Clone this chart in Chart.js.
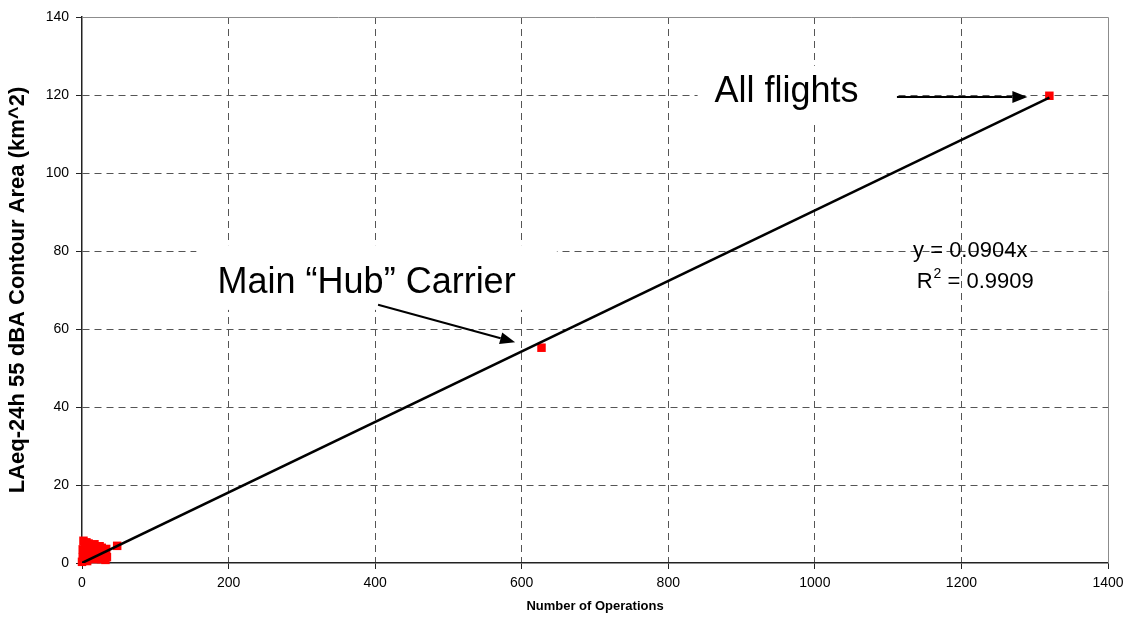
<!DOCTYPE html>
<html>
<head>
<meta charset="utf-8">
<title>LAeq-24h contour area vs number of operations</title>
<script src="https://cdn.jsdelivr.net/npm/chart.js@4/dist/chart.umd.min.js"></script>
<style>
    body { margin: 0; background: #ffffff; }
    #wrap { width: 1134px; height: 617px; }
</style>
</head>
<body>
<div id="wrap"><canvas id="noiseChart"></canvas></div>
<script>

// Values

const operations = [
    0, 1, 1, 2, 2, 3, 3, 4, 4, 5, 6, 6, 7, 8, 8, 9, 10, 11, 12, 13, 14, 15,
    16, 17, 18, 19, 20, 22, 23, 24, 25, 26, 27, 28, 30, 32, 33, 34, 48,
    627, 1320
];
const contourArea = [
    0.3, 1.5, 3.5, 5.7, 2.5, 3.0, 0.8, 4.5, 1.8, 2.2, 5.3, 3.2, 0.5, 1.0, 4.0, 5.0, 3.5, 1.5, 2.5, 3.0, 4.2, 1.2,
    2.2, 4.8, 3.4, 1.0, 2.0, 3.6, 1.5, 4.3, 2.8, 1.0, 3.9, 2.0, 1.8, 0.8, 3.6, 1.5, 4.4,
    55.2, 119.8
];

// Linear trendline (y = 0.0904x), ends
const trendOps = [0, 1320];
const trendArea = [0, 119.3];

const xTicks = [0, 200, 400, 600, 800, 1000, 1200, 1400];
const yTicks = [0, 20, 40, 60, 80, 100, 120, 140];

const equationText = "y = 0.0904x";
const rSquaredText = "0.9909";

const FONT = '"Liberation Sans", Arial, sans-serif';
const GRID = "#555555";


// Annotations, placed in data units

const notes = [
    {
        text: "Main \u201CHub\u201D Carrier",
        x: 185, y: 69.3,
        box: [156, 81.5, 648, 64.9],
        arrow: [404, 66.2, 591, 56.6]
    },
    {
        text: "All flights",
        x: 863, y: 118.2,
        box: [840, 127.5, 1112, 112.5],
        arrow: [1112, 119.5, 1290, 119.5]
    }
];


function drawArrow(ctx, x1, y1, x2, y2) {

    const ang = Math.atan2(y2 - y1, x2 - x1);
    const head = 15;
    const half = 6;

    const bx = x2 - head * Math.cos(ang);
    const by = y2 - head * Math.sin(ang);

    ctx.lineWidth = 2;
    ctx.strokeStyle = "#000";
    ctx.fillStyle = "#000";

    ctx.beginPath();
    ctx.moveTo(x1, y1);
    ctx.lineTo(bx, by);
    ctx.stroke();

    ctx.beginPath();
    ctx.moveTo(x2, y2);
    ctx.lineTo(bx - half * Math.sin(ang), by + half * Math.cos(ang));
    ctx.lineTo(bx + half * Math.sin(ang), by - half * Math.cos(ang));
    ctx.closePath();
    ctx.fill();
}


const annotationPlugin = {

    id: "annotations",

    // white label boxes and plot frame, under the data
    beforeDatasetsDraw(chart) {

        const ctx = chart.ctx;
        const xs = chart.scales.x;
        const ys = chart.scales.y;
        const area = chart.chartArea;

        ctx.save();

        ctx.fillStyle = "#ffffff";

        notes.forEach(note => {
            const x1 = xs.getPixelForValue(note.box[0]);
            const y1 = ys.getPixelForValue(note.box[1]);
            const x2 = xs.getPixelForValue(note.box[2]);
            const y2 = ys.getPixelForValue(note.box[3]);
            ctx.fillRect(x1, y1, x2 - x1, y2 - y1);
        });

        // top and right frame
        ctx.strokeStyle = "#8c8c8c";
        ctx.lineWidth = 1;
        ctx.beginPath();
        ctx.moveTo(area.left, area.top + 0.5);
        ctx.lineTo(area.right + 0.5, area.top + 0.5);
        ctx.lineTo(area.right + 0.5, area.bottom);
        ctx.stroke();

        ctx.restore();
    },

    // texts and arrows, over the data
    afterDatasetsDraw(chart) {

        const ctx = chart.ctx;
        const xs = chart.scales.x;
        const ys = chart.scales.y;

        ctx.save();

        ctx.textBaseline = "alphabetic";
        ctx.textAlign = "left";
        ctx.font = "36px " + FONT;

        notes.forEach(note => {

            ctx.fillStyle = "#000";
            ctx.fillText(
                note.text,
                xs.getPixelForValue(note.x),
                ys.getPixelForValue(note.y)
            );

            drawArrow(
                ctx,
                xs.getPixelForValue(note.arrow[0]),
                ys.getPixelForValue(note.arrow[1]),
                xs.getPixelForValue(note.arrow[2]),
                ys.getPixelForValue(note.arrow[3])
            );
        });

        // trendline equation
        ctx.fillStyle = "#000";
        ctx.font = "22px " + FONT;

        ctx.fillText(
            equationText,
            xs.getPixelForValue(1134),
            ys.getPixelForValue(78.5)
        );

        let rx = xs.getPixelForValue(1139);
        const ry = ys.getPixelForValue(70.4);

        ctx.fillText("R", rx, ry);
        rx += ctx.measureText("R").width;

        ctx.font = "14px " + FONT;
        ctx.fillText("2", rx + 1, ry - 10);
        rx += ctx.measureText("2").width + 1;

        ctx.font = "22px " + FONT;
        ctx.fillText(" = " + rSquaredText, rx, ry);

        ctx.restore();
    }
};


const whiteBackground = {
    id: "whiteBackground",
    beforeDraw(chart) {
        const ctx = chart.ctx;
        ctx.save();
        ctx.fillStyle = "#ffffff";
        ctx.fillRect(0, 0, chart.width, chart.height);
        ctx.restore();
    }
};


// Create Chart

const ctx = document.getElementById("noiseChart").getContext("2d");

const noiseChart = new Chart(ctx, {

    type: "scatter",

    data: {
        datasets: [
            {
                type: "line",
                label: "Linear trend",
                data: trendOps.map((x, i) => ({ x: x, y: trendArea[i] })),
                borderColor: "#000000",
                borderWidth: 2.5,
                pointRadius: 0,
                fill: false,
                order: 0
            },
            {
                label: "Contour area",
                data: operations.map((x, i) => ({ x: x, y: contourArea[i] })),
                pointStyle: "rect",
                pointRadius: 6,
                backgroundColor: "#ff0000",
                borderColor: "#ff0000",
                borderWidth: 0,
                clip: false,
                order: 1
            }
        ]
    },

    options: {

        responsive: true,
        maintainAspectRatio: false,
        animation: false,

        layout: {
            padding: { top: 17, right: 26, bottom: 0, left: 0 }
        },

        plugins: {
            legend: { display: false },
            tooltip: { enabled: false }
        },

        scales: {

            x: {
                type: "linear",
                min: xTicks[0],
                max: xTicks[xTicks.length - 1],
                afterFit(scale) { scale.height = 54; },
                ticks: {
                    stepSize: xTicks[1] - xTicks[0],
                    color: "#000",
                    padding: 6,
                    font: { family: FONT, size: 14 },
                    callback: value => String(value)
                },
                grid: {
                    color: c => (c.tick && (c.tick.value === xTicks[0] || c.tick.value === xTicks[xTicks.length - 1])) ? "rgba(0,0,0,0)" : GRID,
                    tickColor: "#222",
                    tickLength: 6,
                    lineWidth: 1
                },
                border: {
                    display: true,
                    color: "#222",
                    width: 1.5,
                    dash: [7, 5]
                },
                title: {
                    display: true,
                    text: "Number of Operations",
                    color: "#000",
                    padding: { top: 0, bottom: 3 },
                    font: { family: FONT, size: 13, weight: "bold" }
                }
            },

            y: {
                type: "linear",
                min: yTicks[0],
                max: yTicks[yTicks.length - 1],
                afterFit(scale) { scale.width = 82; },
                ticks: {
                    stepSize: yTicks[1] - yTicks[0],
                    color: "#000",
                    padding: 7,
                    font: { family: FONT, size: 14 },
                    callback: value => String(value)
                },
                grid: {
                    color: c => (c.tick && (c.tick.value === yTicks[0] || c.tick.value === yTicks[yTicks.length - 1])) ? "rgba(0,0,0,0)" : GRID,
                    tickColor: "#222",
                    tickLength: 6,
                    lineWidth: 1
                },
                border: {
                    display: true,
                    color: "#222",
                    width: 1.5,
                    dash: [7, 5]
                },
                title: {
                    display: true,
                    text: "LAeq-24h 55 dBA Contour Area (km^2)",
                    color: "#000",
                    padding: { top: 5, bottom: 0 },
                    font: { family: FONT, size: 22, weight: "bold" }
                }
            }
        }
    },

    plugins: [whiteBackground, annotationPlugin]

});

</script>
</body>
</html>
